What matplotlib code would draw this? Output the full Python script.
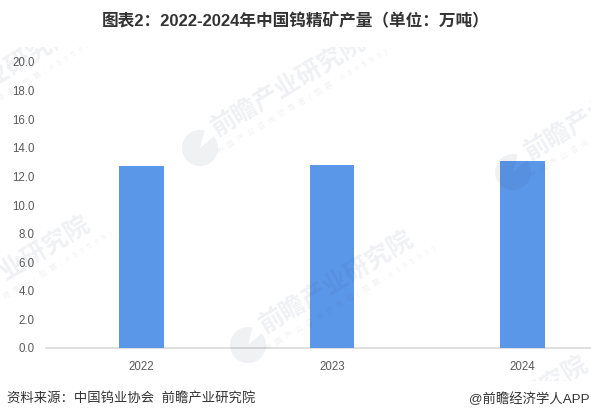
import matplotlib
matplotlib.use("Agg")
import matplotlib.pyplot as plt
from matplotlib.patches import Rectangle, Wedge
from matplotlib.transforms import IdentityTransform

plt.rcParams['font.family'] = ['Liberation Sans', 'Noto Sans CJK SC', 'DejaVu Sans']

years = ["2022", "2023", "2024"]
output = [12.7, 12.8, 13.1]
y_ticks = [0, 2, 4, 6, 8, 10, 12, 14, 16, 18, 20]

W, H = 591, 420
fig = plt.figure(figsize=(W / 100, H / 100), dpi=100)
ax = fig.add_axes([46 / W, 1 - 348 / H, 572 / W, 286 / H])

ax.bar(range(3), output, width=0.233, color="#5B97E8", zorder=3)
ax.set_xlim(-0.5, 2.5)
ax.set_ylim(0, 20)
ax.set_xticks(range(3))
ax.set_xticklabels(years)
ax.set_yticks(y_ticks)
ax.set_yticklabels([f"{v:.1f}" for v in y_ticks])
ax.tick_params(length=0, labelsize=8.3, labelcolor="#595959")
ax.tick_params(axis="x", pad=9)
ax.tick_params(axis="y", pad=8)
for s in ["top", "right", "left"]:
    ax.spines[s].set_visible(False)
ax.spines["bottom"].set_color("#D9D9D9")
ax.spines["bottom"].set_linewidth(1.2)

# watermarks, one per logo position (pixels from top-left)
wm_color = "#2B3A60"
wm_alpha = 0.07
for x, y in [(200, 148), (248, 345), (513, 172), (-75, 330), (-91, 138), (423, 470)]:
    fig.add_artist(Wedge((x, H - y), 18, 75, 400, width=18, transform=IdentityTransform(),
                         facecolor=wm_color, alpha=wm_alpha, linewidth=0, zorder=5))
    fig.text((x + 89) / W, 1 - (y - 62) / H, "前瞻产业研究院", fontsize=18, color=wm_color,
             alpha=wm_alpha, rotation=31, ha="center", va="center", fontweight="bold", zorder=5)
    fig.text((x + 102) / W, 1 - (y - 47) / H,
             "中  国  产  业  咨  询  领  导  者  (  股  票  :  8  3  9  5  9  9  )",
             fontsize=5.5, color=wm_color, alpha=wm_alpha, rotation=31, ha="center", va="center", zorder=5)

# white bands hide the watermarks above and below the chart
fig.add_artist(Rectangle((0, 0), 1, 1 - 381 / H, transform=fig.transFigure,
                         facecolor="white", linewidth=0, zorder=6))
fig.add_artist(Rectangle((0, 1 - 47 / H), 1, 47 / H, transform=fig.transFigure,
                         facecolor="white", linewidth=0, zorder=6))

fig.text(296 / W, 1 - 21 / H, "图表2：2022-2024年中国钨精矿产量（单位：万吨）", fontsize=12,
         fontweight="bold", color="#333333", ha="center", va="center", zorder=7)
fig.text(7 / W, 1 - 399 / H, "资料来源：中国钨业协会  前瞻产业研究院", fontsize=9.6,
         color="#333333", ha="left", va="center", zorder=7)
fig.text(590 / W, 1 - 399 / H, "@前瞻经济学人APP", fontsize=9.6,
         color="#333333", ha="right", va="center", zorder=7)

fig.savefig("out.png", dpi=100)
